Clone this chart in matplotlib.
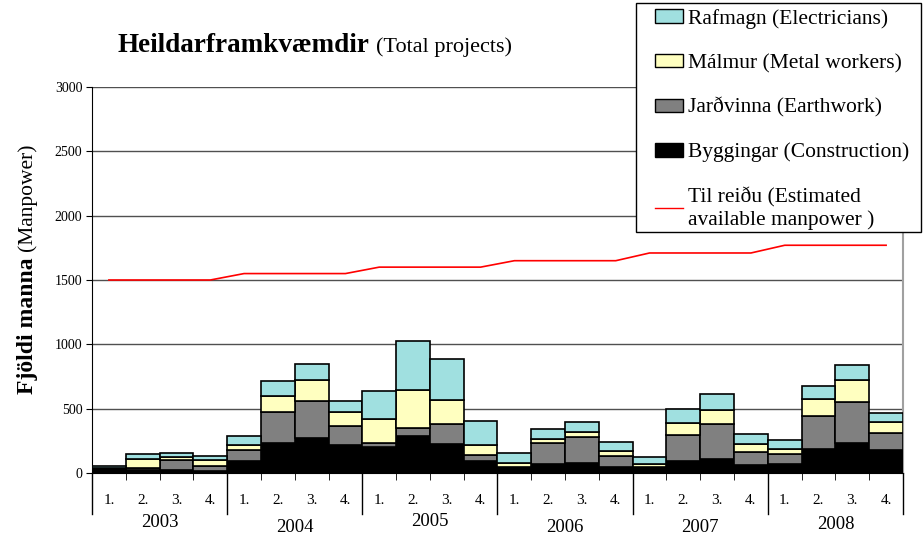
import numpy as np
import matplotlib
matplotlib.use('Agg')
import matplotlib.pyplot as plt
import matplotlib.transforms as mtransforms
from matplotlib.patches import Patch, Rectangle
from matplotlib.lines import Line2D

plt.rcParams['font.family'] = ['Liberation Serif', 'DejaVu Serif']

# Quarterly manpower per trade, 2003-2008
years = ['2003', '2004', '2005', '2006', '2007', '2008']
quarters = ['1.', '2.', '3.', '4.']
byggingar = [20, 20, 20, 18, 96, 231, 272, 218, 200, 290, 228, 96,
             40, 70, 75, 49, 35, 93, 111, 60, 72, 189, 231, 179]
jardvinna = [12, 20, 82, 34, 80, 246, 285, 147, 31, 62, 150, 42,
             5, 161, 202, 86, 9, 205, 267, 106, 78, 256, 321, 132]
malmur = [10, 72, 24, 46, 39, 119, 163, 106, 189, 293, 192, 80,
          35, 33, 39, 36, 26, 88, 109, 57, 39, 128, 168, 83]
rafmagn = [12, 36, 33, 37, 70, 116, 127, 88, 215, 378, 318, 183,
           75, 80, 78, 72, 57, 109, 124, 77, 65, 105, 122, 75]
til_reidu = [1500] * 4 + [1550] * 4 + [1600] * 4 + [1650] * 4 + [1710] * 4 + [1770] * 4

c_bygg = '#000000'
c_jard = '#808080'
c_malm = '#ffffc0'
c_raf = '#a0e0e0'

W, H = 924, 540
fig = plt.figure(figsize=(W / 100, H / 100), dpi=100)
ax = fig.add_axes([92 / W, 1 - 473 / H, 811 / W, 386 / H])

x = np.arange(len(byggingar))
b = np.array(byggingar)
j = np.array(jardvinna)
m = np.array(malmur)
r = np.array(rafmagn)
kw = dict(width=1.0, edgecolor='#000000', linewidth=1.2, zorder=3)
ax.bar(x, b, color=c_bygg, **kw)
ax.bar(x, j, bottom=b, color=c_jard, **kw)
ax.bar(x, m, bottom=b + j, color=c_malm, **kw)
ax.bar(x, r, bottom=b + j + m, color=c_raf, **kw)
ax.plot(x, til_reidu, color='#ff0000', linewidth=1.2, zorder=4)

ax.set_xlim(-0.5, len(x) - 0.5)
ax.set_ylim(0, 3000)
ax.set_yticks(np.arange(0, 3001, 500))
ax.yaxis.grid(True, color='#505050', linewidth=1)
ax.set_axisbelow(True)
ax.tick_params(axis='y', labelsize=10, length=4, direction='out', pad=3)

ax.spines['top'].set_visible(False)
ax.spines['right'].set_color('#a0a0a0')
ax.spines['right'].set_linewidth(1.5)

# quarter labels under each bar, short ticks between bars
ax.set_xticks(x)
ax.set_xticklabels(quarters * len(years), fontsize=11)
ax.tick_params(axis='x', length=0, pad=15)
ax.set_xticks(np.arange(-0.5, len(x), 1), minor=True)
ax.tick_params(axis='x', which='minor', length=5, direction='out')

# year separators and year labels
trans = mtransforms.blended_transform_factory(ax.transData, ax.transAxes)
for k in range(len(years) + 1):
    xs = k * 4 - 0.5
    ax.plot([xs, xs], [0, -0.105], color='#000000', linewidth=1,
            transform=trans, clip_on=False)
year_off = [-0.128, -0.14, -0.125, -0.14, -0.142, -0.133]
for k, yr in enumerate(years):
    ax.text(k * 4 + 1.5, year_off[k], yr, transform=trans, ha='center',
            va='center', fontsize=13.5)

# title and y label: bold part followed by a plain part
renderer = fig.canvas.get_renderer()
t1 = fig.text(118 / W, 1 - 52 / H, 'Heildarframkvæmdir', fontsize=19.5,
              fontweight='bold', va='baseline', ha='left')
bb = t1.get_window_extent(renderer)
fig.text((bb.x1 + 6) / W, 1 - 52 / H, '(Total projects)', fontsize=16,
         va='baseline', ha='left')

y1 = fig.text(27 / W, 1 - 394 / H, 'Fjöldi manna', fontsize=17,
              fontweight='bold', rotation=90, ha='left', va='center',
              rotation_mode='anchor')
bb = y1.get_window_extent(renderer)
fig.text(27 / W, (bb.y1 + 6) / H, '(Manpower)', fontsize=15.5,
         rotation=90, ha='left', va='center', rotation_mode='anchor')

# legend box sits partly over the plot
fig.patches.append(Rectangle((636 / W, 1 - 232 / H), 285 / W, 229 / H,
                             transform=fig.transFigure, facecolor='white',
                             edgecolor='#000000', linewidth=1, zorder=4))
handles = [
    Patch(facecolor=c_raf, edgecolor='#000000'),
    Patch(facecolor=c_malm, edgecolor='#000000'),
    Patch(facecolor=c_jard, edgecolor='#000000'),
    Patch(facecolor=c_bygg, edgecolor='#000000'),
    Line2D([], [], color='#ff0000', linewidth=1),
]
labels = ['Rafmagn (Electricians)', 'Málmur (Metal workers)',
          'Jarðvinna (Earthwork)', 'Byggingar (Construction)',
          'Til reiðu (Estimated\navailable manpower )']
leg = fig.legend(handles, labels, loc='upper left',
                 bbox_to_anchor=(655 / W, 1 - 9 / H), fontsize=15.5,
                 frameon=False, borderpad=0, labelspacing=1.15,
                 handlelength=1.3, handleheight=0.6, handletextpad=0.25,
                 borderaxespad=0)
leg.set_zorder(5)

fig.savefig('out.png', dpi=100)
